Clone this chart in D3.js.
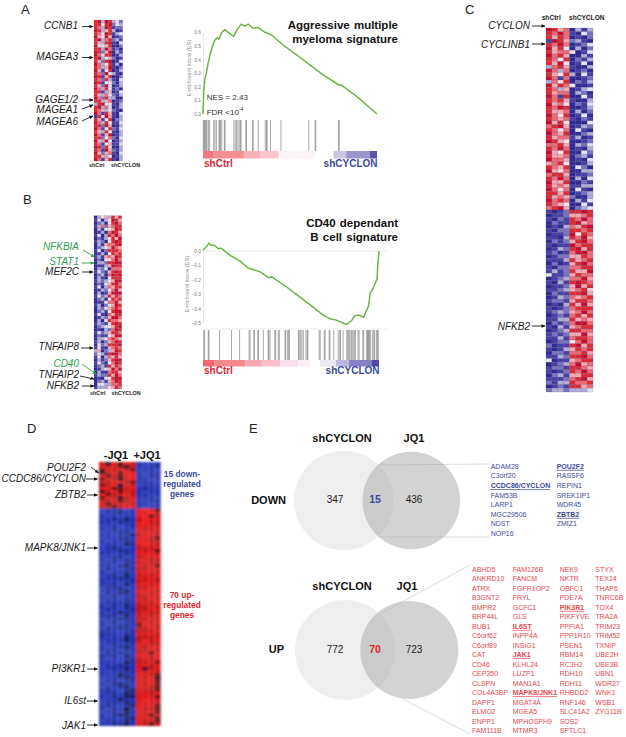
<!DOCTYPE html>
<html>
<head>
<meta charset="utf-8">
<script src="https://cdn.jsdelivr.net/npm/d3@7"></script>
<style>
body { margin: 0; background: #fff; }
text { font-family: "Liberation Sans", Arial, sans-serif; }
</style>
</head>
<body>
<div id="fig"></div>
<script>
// heatmap cells, one string per gene, digit 0 (blue) .. 9 (red)
const heatA = ["89398342","88489243","87398122","98368301","87498134","96496012","89378231","86389104","95468002","88397120",
  "98269031","97488013","89346201","86289014","97358130","87369102","96148013","87294310","98168002","87283104",
  "98145203","86294013","97384120","88136014","86374213","97283300","88367012","38945103","89374013","87635210",
  "97186104","18496103","86148023","97385114","88296003","97148214","86385103","97169013","88257204","96394013",
  "87156114","98285003","87196213","96267104","88635013","97168103"];
const heatB = ["03463868","14035986","02304897","13726788","03145698","01307986","14038797","02135869","13204898","03167789",
  "02346976","14028887","01305878","13167698","02045797","03328899","01136988","03240777","14216898","02307989",
  "03104888","13235699","02146897","14037688","01325796","03016999","14238687","02305878","01147796","13024698",
  "03246787","02315899","14107688","01326997","03048776","13215898","02344689","01032798","14236887","02115699",
  "03347876","13026798","04238889","15106787","36023698","24318997","15037686","03126899","14205798","02318687",
  "01346979","03107886","13228697","01045899","02316798","04433778","13335687"];
const heatC = ["98670313","87971042","86870102","19862310","87970124","96840302","86775014","97860031","87480213","86950140",
  "37861003","97370120","86583041","97170012","37580213","96874001","87360134","86770320","97180041","87861003",
  "96750214","87980013","86670302","97580140","87671021","96850004","78960132","87570410","97680023","86771301",
  "98650012","77860324","87970103","96580042","86670231","97760104","67850013","87680420","96570033","78860112",
  "87970304","96680021","86761133","97570410","88680123","86762003","97870314","87650041","78960234",
  "10128898","01126678","10218797","02118967","01037689","10228878","01129587","11038796","02126897","10119788",
  "01328968","12017997","01226687","11138678","02016897","10227788","13128669","41126877","01237796","10318987",
  "01126968","11236785","02118896","01327678","12216887","01038696","10127888","12326797","01217868","11338676",
  "02127997","10316788","01238877","12126696","11317887","01225797","20118968","10136878","02217786","11328897",
  "40116788","01237967","12218876","10128797","02316688","11127896","21338778","01218867","23323334"];
const heatD = ["748687","878657","687876","578698","867688","687588","778876","678497","886678","578687","867797","687578","778678","867787","776788"];
const heatDright = ["1001","1012","0110","1011","1021","1101","1110","0111","1211","1011","1101","1110","1012","1101","1011"];
const heatDup = ["011201","011211","101011","012131","110211","011012","102011","011220","110113","011221","101122","011032","012101","011221","110121",
  "011201","102121","011022","110231","021012","101121","012031","011221","101012","112031","012201","021231","011221","102011","011021",
  "012121","102031","021012","101321","122031","011221","102012","101121","021221","111012",
  "211021","101031","011132","012012","101231","112022","021211","212031","101012","111032",
  "011221","012131","101122","111321","011232","012012","102321","011231","121023","012032",
  "102133","011321","012132","121023","102141","012032","102331","111023","012131","102231"];
const heatDdown = ["8986","8897","8967","7988","8977","8887","8778","8887","7887","8876",
  "8877","8987","7878","8786","8887","7888","8877","7877","8786","7788",
  "8887","7878","8787","7887","8878","7788","8887","7878","7787","8788",
  "7878","7787","7788","7877","7878","7787","7878","6887","7787","7778",
  "8887","7778","7978","8877","8788","7787","7868","8878","7878","7786",
  "8878","8478","8787","8876","8785","8886","8786","8876","8776","8878",
  "8886","8987","8887","8886","8776","8886","8767","8886","8776","8767"];

// running enrichment score: rank in the gene list and ES
const ranksA = [0,4,10,19,29,42,54,67,81,92,106,125,144,177,196,221,240,260,288,317,356,394,462,538,635,692,779,798,885,1000];
const esA = [0,0.16,0.25,0.30,0.37,0.445,0.495,0.54,0.56,0.55,0.595,0.62,0.60,0.57,0.62,0.66,0.645,0.66,0.63,0.635,0.60,0.58,0.505,0.435,0.34,0.285,0.215,0.21,0.127,0];
const hitsA = [2,6,10,13,19,23,31,38,62,69,77,92,96,100,108,123,127,177,185,192,200,208,215,219,246,250,285,288,317,358,365,369,388,448,608,644,648,779,783];
const ranksB = [0,13,34,45,64,89,102,126,155,211,258,287,325,372,391,475,551,626,683,721,758,815,843,862,881,894,913,928,940,951,966,989,994,1000];
const esB = [0.005,0.02,0.055,0.04,0.04,0.015,0.02,-0.002,-0.03,-0.07,-0.12,-0.13,-0.145,-0.185,-0.18,-0.25,-0.32,-0.39,-0.445,-0.47,-0.48,-0.51,-0.485,-0.45,-0.445,-0.45,-0.46,-0.415,-0.385,-0.29,-0.26,-0.195,-0.08,0];
const hitsB = [4,9,30,34,94,162,208,262,268,289,292,311,315,343,370,374,381,408,413,428,434,466,470,481,487,491,542,547,555,562,570,585,592,596,660,666,689,694,717,721,743,768,777,781,796,817,823,828,834,842,847,853,860,866,881,887,908,913,930,934,938,942,945,951,962,970,975,985,991,996];

// ranking metric band: segment ends (rank) and colour
const bandEndsA = [58,235,331,435,646,750,823,958,1000];
const bandColorsA = ["#f2787e","#f48f91","#f6b0ba","#f9c5cc","#fdf4f7","#ffffff","#c9c5e2","#9d96cc","#5b52a8"];
const bandEndsB = [64,240,334,438,542,608,664,755,830,957,1000];
const bandColorsB = ["#f2686e","#f38a8c","#f6a9b4","#f9bfc8","#f9dfee","#fbeef6","#ffffff","#ece8f4","#bcb8e0","#8880c4","#5048a8"];

const ticksA = [0, 0.1, 0.2, 0.3, 0.4, 0.5, 0.6];
const ticksB = [0, -0.1, -0.2, -0.3, -0.4, -0.5];

// venn counts
const vennDown = [347, 15, 436];
const vennUp = [772, 70, 723];

const downGenes = [["ADAM28","C3orf20","CCDC86/CYCLON","FAM53B","LARP1","MGC29506","NDST","NOP16"],
  ["POU2F2","RASSF6","REPIN1","SREK1IP1","WDR45","ZBTB2","ZMIZ1"]];
const upGenes = [["ABHD5","ANKRD10","ATRX","B3GNT2","BMPR2","BRP44L","BUB1","C6orf62","C6orf89","CAT","CD46","CEP350","CLSPN","COL4A3BP","DAPP1","ELMO2","ENPP1","FAM111B"],
  ["FAM126B","FANCM","FGFR1OP2","FRYL","GCFC1","GLS","IL6ST","INPP4A","INSIG1","JAK1","KLHL24","LUZP1","MAN1A1","MAPK8/JNK1","MGAT4A","MGEA5","MPHOSPH9","MTMR3"],
  ["NEK9","NKTR","OBFC1","PDE7A","PIK3R1","PIKFYVE","PPFIA1","PPP1R10","PSEN1","RBM14","RC3H2","RDH10","RDH11","RHBDD2","RNF146","SLC41A2","SOS2","SPTLC1"],
  ["STYX","TEX14","THAP6","TNRC6B","TOX4","TRA2A","TRIM23","TRIM52","TXNIP","UBE2H","UBE3B","UBN1","WDR27","WNK1","WSB1","ZYG11B"]];
const boldGenes = ["CCDC86/CYCLON","POU2F2","ZBTB2","IL6ST","JAK1","MAPK8/JNK1","PIK3R1"];

const width = 626, height = 737;
const blue = "#3c4a9f", red = "#d6283a", green = "#2ea04f";

const svg = d3.select("#fig").append("svg").attr("width", width).attr("height", height);

const defs = svg.append("defs");
[["arrowK", "#111"], ["arrowG", green]].forEach(function (m) {
    defs.append("marker").attr("id", m[0]).attr("viewBox", "0 0 8 8").attr("refX", 7).attr("refY", 4)
        .attr("markerWidth", 4.5).attr("markerHeight", 4.5).attr("orient", "auto")
        .append("path").attr("d", "M0,0.5L8,4L0,7.5Z").attr("fill", m[1]);
});
[["soft", 0.35], ["softD", 0.9]].forEach(function (f) {
    defs.append("filter").attr("id", f[0])
        .append("feGaussianBlur").attr("stdDeviation", f[1]);
});

function label(g, x, y, str, size, opt) {
    opt = opt || {};
    return g.append("text").attr("x", x).attr("y", y).text(str)
        .attr("font-size", size)
        .attr("dominant-baseline", "middle")
        .attr("text-anchor", opt.anchor || "start")
        .attr("font-weight", opt.bold ? "bold" : "normal")
        .attr("font-style", opt.italic ? "italic" : "normal")
        .attr("fill", opt.fill || "#222");
}

function panelLetter(x, y, str) {
    svg.append("text").attr("x", x).attr("y", y).text(str).attr("font-size", 13).attr("fill", "#222");
}

const heatColor = d3.scaleLinear().domain([0, 1, 2, 3, 4, 5, 6, 7, 8, 9])
    .range(["#2e2a96", "#4640a6", "#7873c0", "#b0add9", "#e4e3f3", "#fbdde3", "#f7a8b0", "#ee6a74", "#dd2c36", "#c8102e"]);
const heatColorD = d3.scaleLinear().domain([0, 1, 2, 3, 4, 5, 6, 7, 8, 9])
    .range(["#2a3cc0", "#2232ae", "#1c2a94", "#141e66", "#0e0e30", "#2a0a14", "#701010", "#c01214", "#e01616", "#f01a1a"]);

function drawHeat(rows, x0, x1, y0, y1, color, gridColor, filter) {
    let g = svg.append("g").attr("filter", "url(#" + filter + ")");
    let nCols = rows[0].length;
    let xScale = d3.scaleBand().domain(d3.range(nCols)).range([x0, x1]);
    let yScale = d3.scaleBand().domain(d3.range(rows.length)).range([y0, y1]);
    let cells = [];
    rows.forEach(function (row, i) {
        row.split("").forEach(function (c, j) {
            cells.push({ i: i, j: j, v: +c });
        });
    });
    g.selectAll("rect").data(cells).enter().append("rect")
        .attr("x", d => xScale(d.j))
        .attr("y", d => yScale(d.i))
        .attr("width", xScale.bandwidth())
        .attr("height", yScale.bandwidth())
        .attr("fill", d => color(d.v))
        .attr("stroke", gridColor)
        .attr("stroke-width", gridColor == "none" ? 0 : 0.3);
}

function callouts(list, textX, size) {
    list.forEach(function (c) {
        let col = c.green ? green : "#1a1a1a";
        label(svg, textX, c.y, c.name, size, { anchor: "end", italic: true, fill: col });
        svg.append("line").attr("x1", c.p[0]).attr("y1", c.p[1]).attr("x2", c.p[2]).attr("y2", c.p[3])
            .attr("stroke", col).attr("stroke-width", 0.9)
            .attr("marker-end", c.green ? "url(#arrowG)" : "url(#arrowK)");
    });
}

function drawGsea(o) {
    let g = svg.append("g");
    let x = d3.scaleLinear().domain([0, 1000]).range(o.xRange);
    let y = d3.scaleLinear().domain(o.yDomain).range(o.yRange);

    // axis
    let axis = d3.axisLeft(y).tickValues(o.ticks).tickSize(0).tickPadding(2).tickFormat(d3.format(".1f"));
    let ag = g.append("g").attr("transform", "translate(" + o.xRange[0] + ",0)").call(axis);
    ag.select(".domain").attr("stroke", "#ddd").attr("stroke-width", 0.7);
    ag.selectAll("text").attr("font-size", 4.8).attr("fill", "#777");
    g.append("text").attr("transform", "translate(" + o.axisLabel[0] + "," + o.axisLabel[1] + ") rotate(-90)")
        .attr("text-anchor", "middle").attr("font-size", 5.6).attr("fill", "#888")
        .text("Enrichment score (ES)");

    // guide lines
    o.rules.forEach(function (yy) {
        g.append("line").attr("x1", o.xRange[0]).attr("x2", o.ruleEnd).attr("y1", yy).attr("y2", yy)
            .attr("stroke", "#e4e4e4").attr("stroke-width", 0.7);
    });

    // hit ticks
    g.selectAll(".hit").data(o.hits).enter().append("line").attr("class", "hit")
        .attr("x1", d => x(d)).attr("x2", d => x(d))
        .attr("y1", o.hitY[0]).attr("y2", o.hitY[1])
        .attr("stroke", "#666").attr("stroke-opacity", 0.7).attr("stroke-width", 0.8);

    // ranking band
    let segs = o.bandEnds.map((e, i) => ({ a: i ? o.bandEnds[i - 1] : 0, b: e, c: o.bandColors[i] }));
    g.selectAll(".seg").data(segs).enter().append("rect").attr("class", "seg")
        .attr("x", d => x(d.a)).attr("width", d => x(d.b) - x(d.a))
        .attr("y", o.hitY[1]).attr("height", o.bandH).attr("fill", d => d.c);

    // curve
    let line = d3.line().x(d => x(d[0])).y(d => y(d[1]));
    g.append("path").datum(d3.zip(o.ranks, o.es)).attr("d", line)
        .attr("fill", "none").attr("stroke", "#6cb544").attr("stroke-width", 1.5);

    label(g, o.xRange[0] + 1, o.labelY, "shCtrl", 10, { bold: true, fill: red });
    label(g, o.xRange[1] + 0.5, o.labelY, "shCYCLON", 10, { bold: true, fill: blue, anchor: "end" });
    o.title.forEach(function (t, i) {
        label(g, 398, o.titleY[i], t, 11.5, { bold: true, anchor: "end", fill: "#111" }).attr("word-spacing", 1);
    });
}

// ---------- A
panelLetter(21, 14, "A");
drawHeat(heatA, 94, 122.7, 20, 161, heatColor, "rgba(70,50,90,0.3)", "soft");
label(svg, 89, 165.5, "shCtrl", 5.4, { bold: true });
label(svg, 111, 165.5, "shCYCLON", 5.4, { bold: true });
callouts([
    { name: "CCNB1", y: 26.6, p: [82, 26.6, 93, 26.6] },
    { name: "MAGEA3", y: 57, p: [82, 57.5, 93, 57.5] },
    { name: "GAGE1/2", y: 100, p: [82, 100, 93, 100] },
    { name: "MAGEA1", y: 110.5, p: [82, 109, 93, 105] },
    { name: "MAGEA6", y: 122, p: [82, 121, 93, 116] }
], 78, 10);
drawGsea({
    xRange: [203, 377], yDomain: [0, 0.6], yRange: [114, 32.3], ticks: ticksA, axisLabel: [191, 68],
    ranks: ranksA, es: esA, hits: hitsA, bandEnds: bandEndsA, bandColors: bandColorsA,
    hitY: [120, 151], bandH: 7.5, rules: [], ruleEnd: 377, labelY: 164,
    title: ["Aggressive multiple", "myeloma signature"], titleY: [26, 39.5]
});
label(svg, 206.7, 97.5, "NES = 2.43", 8, { fill: "#333" });
let fdr = label(svg, 206.7, 113, "FDR <10", 8, { fill: "#333" });
fdr.append("tspan").attr("font-size", 5).attr("dy", -3).text("-4");

// ---------- B
panelLetter(23, 204, "B");
drawHeat(heatB, 94, 121.7, 215.7, 389, heatColor, "rgba(70,50,90,0.3)", "soft");
label(svg, 90, 393.5, "shCtrl", 5.4, { bold: true });
label(svg, 111.5, 393.5, "shCYCLON", 5.4, { bold: true });
callouts([
    { name: "NFKBIA", y: 247.5, green: true, p: [83, 250, 94.5, 257] },
    { name: "STAT1", y: 262, green: true, p: [82, 263, 94, 263] },
    { name: "MEF2C", y: 272, p: [82, 272, 93, 272] },
    { name: "TNFAIP8", y: 347, p: [81, 348, 93, 348] },
    { name: "CD40", y: 364.5, green: true, p: [82, 364, 96, 374] },
    { name: "TNFAIP2", y: 375.5, p: [80, 376, 94, 379] },
    { name: "NFKB2", y: 386, p: [82, 386, 94, 386] }
], 79, 10);
drawGsea({
    xRange: [203, 379], yDomain: [0, -0.5], yRange: [251, 323], ticks: ticksB, axisLabel: [189, 284],
    ranks: ranksB, es: esB, hits: hitsB, bandEnds: bandEndsB, bandColors: bandColorsB,
    hitY: [330, 360], bandH: 6.5, rules: [251, 329], ruleEnd: 388, labelY: 371.5,
    title: ["CD40 dependant", "B cell signature"], titleY: [224, 238]
});

// ---------- C
panelLetter(465, 14, "C");
drawHeat(heatC, 546, 593, 28, 392, heatColor, "rgba(50,40,80,0.45)", "soft");
label(svg, 541.7, 17.8, "shCtrl", 6.6, { bold: true });
label(svg, 569, 17.8, "shCYCLON", 6.6, { bold: true });
callouts([
    { name: "CYCLON", y: 26.5, p: [532, 26, 545, 26] },
    { name: "CYCLINB1", y: 45.5, p: [532, 44, 545, 44] },
    { name: "NFKB2", y: 327.5, p: [532, 326, 545, 326] }
], 530, 10);

// ---------- D
panelLetter(27, 433, "D");
let heatDall = heatD.map((r, i) => r + heatDright[i]).concat(heatDup.map((r, i) => r + heatDdown[i]));
drawHeat(heatDall, 99, 160.6, 462, 726, heatColorD, "none", "softD");
label(svg, 116, 456, "-JQ1", 11, { bold: true, anchor: "middle", fill: "#111" });
label(svg, 147, 456, "+JQ1", 11, { bold: true, anchor: "middle", fill: "#111" });
callouts([
    { name: "POU2F2", y: 468, p: [91, 467, 98.5, 473] },
    { name: "CCDC86/CYCLON", y: 479.5, p: [86, 479, 97.5, 479] },
    { name: "ZBTB2", y: 495, p: [87, 495, 97.5, 495] },
    { name: "MAPK8/JNK1", y: 548, p: [87, 548, 97.5, 548] },
    { name: "PI3KR1", y: 669, p: [87, 669, 97.5, 669] },
    { name: "IL6st", y: 701, p: [87, 701, 97.5, 701] },
    { name: "JAK1", y: 726, p: [87, 725, 97.5, 725] }
], 86, 10);
["15 down-", "regulated", "genes"].forEach(function (t, i) {
    label(svg, 182, 475 + i * 10, t, 8.4, { bold: true, anchor: "middle", fill: blue });
});
["70 up-", "regulated", "genes"].forEach(function (t, i) {
    label(svg, 182, 596 + i * 10, t, 8.4, { bold: true, anchor: "middle", fill: "#e8252f" });
});

// ---------- E
panelLetter(249, 433, "E");

function drawVenn(name, counts, o) {
    let g = svg.append("g");
    o.zoomLines.forEach(function (l) {
        g.append("line").attr("x1", l[0]).attr("y1", l[1]).attr("x2", l[2]).attr("y2", l[3])
            .attr("stroke", "#d8d8d8").attr("stroke-width", 0.9);
    });
    g.append("circle").attr("cx", o.c1[0]).attr("cy", o.cy).attr("r", o.c1[1]).attr("fill", "#eeeeee");
    g.append("circle").attr("cx", o.c2[0]).attr("cy", o.cy).attr("r", o.c2[1]).attr("fill", "#a8a8a8").attr("fill-opacity", 0.5);
    label(g, 342, o.headY, "shCYCLON", 11, { bold: true, anchor: "middle", fill: "#111" });
    label(g, o.jqX, o.headY, "JQ1", 11, { bold: true, anchor: "middle", fill: "#111" });
    label(g, o.nameX, o.cy + 0.5, name, 11, { bold: true, anchor: "end", fill: "#111" });
    label(g, 335, o.cy, counts[0], 10, { anchor: "middle" });
    label(g, 375, o.cy, counts[1], 10.5, { anchor: "middle", bold: true, fill: o.midColor });
    label(g, 414, o.cy, counts[2], 10, { anchor: "middle" });
}

drawVenn("DOWN", vennDown, {
    c1: [343.7, 49.7], c2: [411.3, 48.8], cy: 500.5, headY: 439.5, jqX: 414, nameX: 286,
    midColor: blue, zoomLines: [[378, 465, 490, 464], [378, 537, 490, 537]]
});
drawVenn("UP", vennUp, {
    c1: [345, 50], c2: [409.3, 49], cy: 650, headY: 587.5, jqX: 407, nameX: 284,
    midColor: "#e0242c", zoomLines: [[376, 616, 470, 565], [403, 699, 470, 734]]
});

function geneList(cols, xs, y0, step, color) {
    cols.forEach(function (col, c) {
        col.forEach(function (name, i) {
            let bold = boldGenes.indexOf(name) >= 0;
            label(svg, xs[c], y0 + i * step, name, 7, { bold: bold, fill: color })
                .attr("text-decoration", bold ? "underline" : "none");
        });
    });
}
geneList(downGenes, [490.7, 556.7], 467, 9.6, "#3f4a9a");
geneList(upGenes, [472, 512.7, 559.7, 595.3], 570, 9.5, "#e8474f");
</script>
</body>
</html>
